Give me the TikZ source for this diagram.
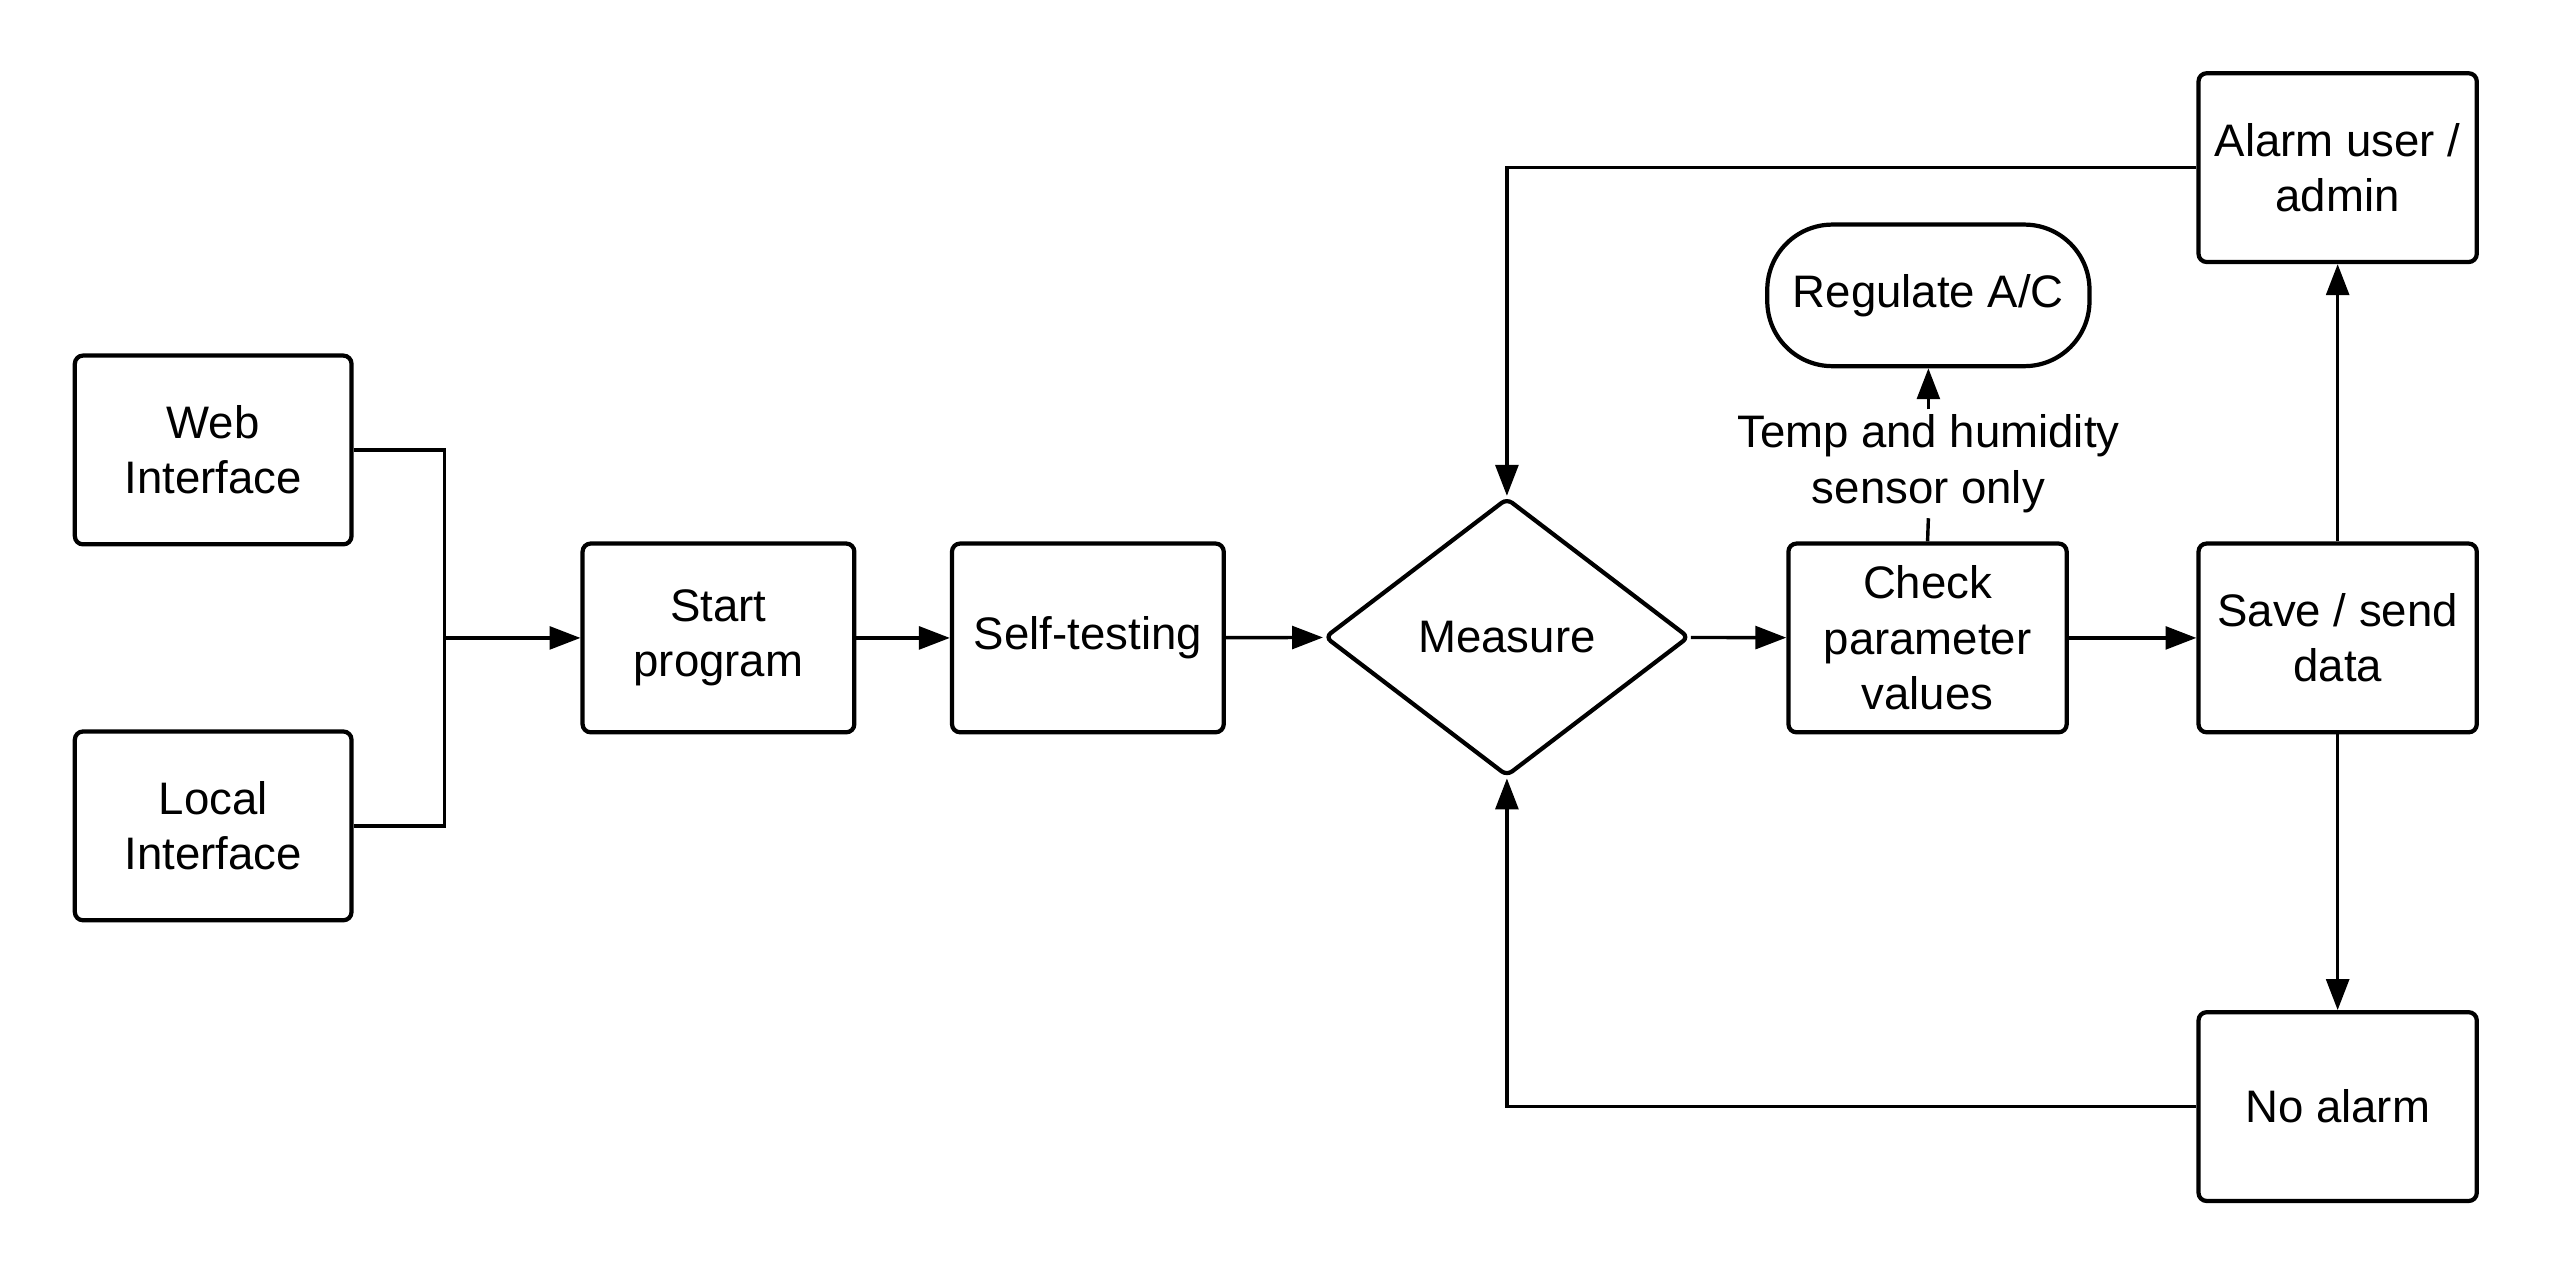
\documentclass[tikz,border=0pt]{standalone}
\usepackage{fontspec}
\setmainfont{Liberation Sans}
\usetikzlibrary{arrows.meta,shapes.geometric}
\begin{document}
\begin{tikzpicture}[x=0.5pt,y=-0.5pt,
  txt/.style={font=\fontsize{14}{17}\selectfont,align=center},
  box/.style={txt,draw,line width=1.3pt,rounded corners=2.5pt,minimum width=85pt,minimum height=58pt,inner sep=0pt},
  conn/.style={line width=1.05pt},
  arr/.style={conn,-{Triangle[length=9.5pt,width=7pt]}},
]
\useasboundingbox (0,0) rectangle (1567,783.5);
\node[box] (web) at (131,276.5) {Web\\Interface};
\node[box] (local) at (131,507.5) {Local\\Interface};
\node[box,minimum width=83.5pt] (start) at (441.5,392) {Start\\program};
\node[box,minimum width=83.5pt] (self) at (668.5,392) {Self-testing};
\node[txt,draw,shape=diamond,line width=1.3pt,rounded corners=2pt,minimum width=112pt,minimum height=85.5pt,inner sep=0pt] (measure) at (926,391.5) {Measure};
\node[box,minimum width=85.5pt] (check) at (1184.5,392) {Check\\parameter\\values};
\node[box,minimum width=85.5pt] (save) at (1436.5,392) {Save / send\\data};
\node[box,minimum width=85.5pt] (alarm) at (1436.5,103) {Alarm user /\\admin};
\node[box,minimum width=85.5pt] (noalarm) at (1436.5,680) {No alarm};
\node[txt,draw,line width=1.3pt,rounded corners=20pt,minimum width=99pt,minimum height=43.5pt,inner sep=0pt] (reg) at (1185,181.5) {Regulate A/C};
\node[txt,inner sep=1.5pt] (lbl) at (1185,285) {Temp and humidity\\sensor only};
\coordinate (bus) at (273,392);
\draw[conn] (web.east) -| (bus);
\draw[conn] (local.east) -| (bus);
\draw[arr] (bus) -- (start.west);
\draw[arr] (start) -- (self);
\draw[arr] (self) -- (measure);
\draw[arr] (measure) -- (check);
\draw[arr] (check) -- (save);
\draw[arr] (save) -- (alarm);
\draw[arr] (save) -- (noalarm);
\draw[conn] (check.north) -- (lbl.south);
\draw[arr] (lbl.north) -- (reg.south);
\draw[arr] (alarm.west) -| (measure.north);
\draw[arr] (noalarm.west) -| (measure.south);
\end{tikzpicture}
\end{document}
